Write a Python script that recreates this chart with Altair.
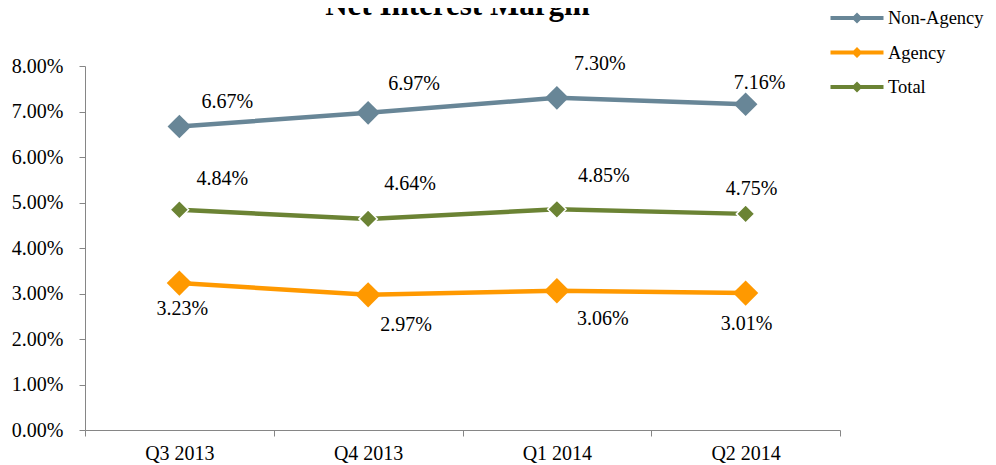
import altair as alt
import pandas as pd

# ---- data ----
quarters = ["Q3 2013", "Q4 2013", "Q1 2014", "Q2 2014"]
series_names = ["Non-Agency", "Agency", "Total"]
non_agency = [6.67, 6.97, 7.30, 7.16]
agency = [3.23, 2.97, 3.06, 3.01]
total = [4.84, 4.64, 4.85, 4.75]
y_ticks = [0, 1, 2, 3, 4, 5, 6, 7, 8]
title_text = "Net Interest Margin"

# ---- styles ----
FONT = "Liberation Serif"
colors = ["#688697", "#FF9900", "#6B8334"]
marker_sizes = {"Non-Agency": 560, "Agency": 640, "Total": 340}
label_dx = {"Non-Agency": [48, 46, 43, 14], "Agency": [3, 38, 46, 1], "Total": [43, 42, 47, 6]}
label_dy = {"Non-Agency": [-25, -29, -34, -21], "Agency": [26, 30, 28, 31], "Total": [-31, -35, -33, -25]}
AXIS_GRAY = "#868686"
LEGEND_PATH = ("M-2.65,-0.2L2.65,-0.2L2.65,0.2L-2.65,0.2Z "
               "M0,-0.55L0.55,0L0,0.55L-0.55,0Z")

rows = []
for name, vals in zip(series_names, [non_agency, agency, total]):
    for q, v in zip(quarters, vals):
        rows.append({"quarter": q, "series": name, "value": v,
                     "label": f"{v:.2f}%"})
df = pd.DataFrame(rows)

x_enc = alt.X(
    "quarter:N", sort=quarters,
    scale=alt.Scale(paddingInner=0, paddingOuter=0),
    axis=alt.Axis(title=None, labelAngle=0, tickBand="extent",
                  labelFont=FONT, labelFontSize=20, labelColor="black",
                  tickSize=6, labelPadding=7, domainColor=AXIS_GRAY,
                  tickColor=AXIS_GRAY, grid=False),
)
y_enc = alt.Y(
    "value:Q",
    scale=alt.Scale(domain=[0, 8], nice=False, zero=True),
    axis=alt.Axis(title=None, values=y_ticks,
                  labelExpr="format(datum.value, '.2f') + '%'",
                  labelFont=FONT, labelFontSize=20, labelColor="black",
                  tickSize=6, labelPadding=16, domainColor=AXIS_GRAY,
                  tickColor=AXIS_GRAY, grid=False),
)
color_scale = alt.Scale(domain=series_names, range=colors)

base = alt.Chart(df)
layers = []

# point layer that carries the legend (its own marks are size 0)
legend_layer = base.mark_point(
    filled=True, opacity=1, shape="diamond", size=0,
).encode(
    x=x_enc, y=y_enc,
    color=alt.Color(
        "series:N", scale=color_scale,
        legend=alt.Legend(
            title=None, orient="none", legendX=762, legendY=-58,
            symbolType=LEGEND_PATH, symbolSize=400, symbolStrokeWidth=0,
            symbolOpacity=1, labelFont=FONT, labelFontSize=18.5,
            labelColor="black", labelOffset=21, rowPadding=14.5, padding=0,
        ),
    ),
)
layers.append(legend_layer)

for name, col in zip(series_names, colors):
    sub = base.transform_filter(alt.datum.series == name)
    layers.append(sub.mark_line(strokeWidth=4.5, color=col).encode(x=x_enc, y=y_enc))

for name, col in zip(series_names, colors):
    sub = base.transform_filter(alt.datum.series == name)
    layers.append(sub.mark_point(
        shape="diamond", filled=True, opacity=1, fill=col,
        size=marker_sizes[name],
        stroke="white" if name == "Total" else col,
        strokeWidth=1.5 if name == "Total" else 0,
    ).encode(x=x_enc, y=y_enc))

for name in series_names:
    for i, q in enumerate(quarters):
        txt = base.transform_filter(
            (alt.datum.series == name) & (alt.datum.quarter == q)
        ).mark_text(
            font=FONT, fontSize=20, color="black", align="center",
            baseline="middle", dx=label_dx[name][i], dy=label_dy[name][i],
        ).encode(x=x_enc, y=y_enc, text="label:N")
        layers.append(txt)

chart = alt.layer(*layers).properties(
    width=755, height=364,
    title=alt.TitleParams(title_text, font=FONT, fontSize=31,
                          fontWeight="bold", color="black", anchor="middle",
                          frame="group", dx=-5, offset=-14),
    autosize=alt.AutoSizeParams(type="none"),
    padding={"left": 77, "top": 58, "right": 148, "bottom": 35},
).configure_view(stroke=None)

chart.save("out.html", embed_options={"renderer": "svg", "actions": False})
